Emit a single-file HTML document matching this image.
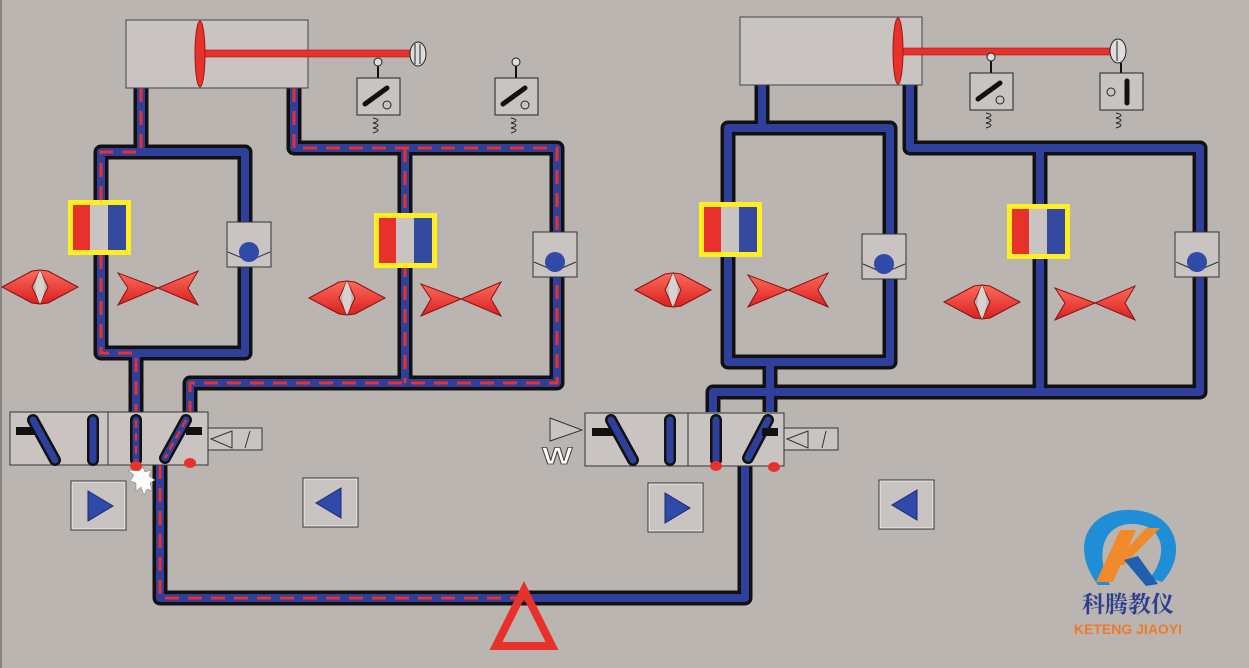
<!DOCTYPE html>
<html><head><meta charset="utf-8"><style>
html,body{margin:0;padding:0;background:#bbb5b2;}
svg{display:block}
</style></head><body>
<svg width="1249" height="668" viewBox="0 0 1249 668" xmlns="http://www.w3.org/2000/svg">
<defs>
<linearGradient id="rg" x1="0" y1="0" x2="0" y2="1"><stop offset="0" stop-color="#ff6a5a"/><stop offset="1" stop-color="#d92020"/></linearGradient>
<g id="diamond">
<polygon points="-38,0 -8,-16 0,-17 -8,0 0,17 -8,16" fill="url(#rg)" stroke="#8a1010" stroke-width="1"/>
<polygon points="38,0 8,-16 0,-17 8,0 0,17 8,16" fill="url(#rg)" stroke="#8a1010" stroke-width="1"/>
<path d="M0,-17 Q-9,0 0,17 Q9,0 0,-17Z" fill="#d8d2ce"/>
</g>
<g id="bow">
<polygon points="0,0 -40,-15 -30,0 -40,17" fill="url(#rg)" stroke="#8a1010" stroke-width="1"/>
<polygon points="0,0 40,-17 30,0 40,17" fill="url(#rg)" stroke="#8a1010" stroke-width="1"/>
</g>
<g id="ball">
<rect x="0" y="0" width="44" height="45" fill="#c9c4c2" stroke="#333" stroke-width="1"/>
<line x1="1" y1="30" x2="22" y2="39" stroke="#333"/><line x1="43" y1="30" x2="22" y2="39" stroke="#333"/>
<circle cx="22" cy="30" r="10" fill="#2f4aa8"/>
</g>
<g id="chk">
<rect x="0" y="0" width="63" height="55" fill="#ffee22"/>
<rect x="5" y="5" width="53" height="45" fill="#c9c4c2"/>
<rect x="5" y="5" width="17" height="45" fill="#e8312a"/>
<rect x="40" y="5" width="18" height="45" fill="#334a9e"/>
</g>
<g id="sw">
<line x1="21" y1="-14" x2="21" y2="0" stroke="#111" stroke-width="2"/>
<circle cx="21" cy="-16" r="4" fill="#ddd" stroke="#222"/>
<rect x="0" y="0" width="43" height="37" fill="#c9c4c2" stroke="#222"/>
<line x1="8" y1="26" x2="30" y2="10" stroke="#111" stroke-width="5" stroke-linecap="round"/>
<circle cx="30" cy="27" r="4" fill="none" stroke="#222"/>
<path d="M16,40 q10,2 0,5 q10,2 0,5 q10,2 0,5" fill="none" stroke="#222"/>
</g>
<g id="btnR"><rect x="0" y="0" width="55" height="49" fill="#c9c4c2" stroke="#333"/><rect x="1" y="1" width="53" height="47" fill="none" stroke="#eee"/><polygon points="17,10 42,25 17,40" fill="#2f4aa8" stroke="#1a2a70"/></g>
<g id="btnL"><rect x="0" y="0" width="55" height="49" fill="#c9c4c2" stroke="#333"/><rect x="1" y="1" width="53" height="47" fill="none" stroke="#eee"/><polygon points="38,10 13,25 38,40" fill="#2f4aa8" stroke="#1a2a70"/></g>
</defs>

<line x1="1" y1="0" x2="1" y2="668" stroke="#8a8480" stroke-width="2"/>

<g fill="none" stroke="#111" stroke-width="15" stroke-linejoin="round">
<path d="M141,88 V152 H101 V353 H136 V412"/>
<path d="M141,152 H245 V353 H136"/>
<path d="M294,88 V148 H557 V383 H190 V415"/>
<path d="M405,148 V383"/>
<path d="M160,465 V598 H745 V466"/>
<path d="M762,85 V128 H728 V362 H770 V412"/>
<path d="M762,128 H890 V362 H770"/>
<path d="M910,85 V148 H1200 V392 H713 V412"/>
<path d="M1040,148 V392"/>
</g>
<g fill="none" stroke="#2f3f9c" stroke-width="8" stroke-linejoin="round">
<path d="M141,88 V152 H101 V353 H136 V412"/>
<path d="M141,152 H245 V353 H136"/>
<path d="M294,88 V148 H557 V383 H190 V415"/>
<path d="M405,148 V383"/>
<path d="M160,465 V598 H745 V466"/>
<path d="M762,85 V128 H728 V362 H770 V412"/>
<path d="M762,128 H890 V362 H770"/>
<path d="M910,85 V148 H1200 V392 H713 V412"/>
<path d="M1040,148 V392"/>
</g>
<g fill="none" stroke="#e8312a" stroke-width="3" stroke-dasharray="14,9">
<path d="M141,88 V152 H101 V353 H136 V412"/>
<path d="M294,88 V148 H557 V383 H190 V415"/>
<path d="M405,148 V383"/>
<path d="M160,465 V598 H520"/>
</g>

<rect x="126" y="20" width="182" height="68" fill="#c9c4c2" stroke="#444"/>
<rect x="205" y="50" width="205" height="7" fill="#e8312a" stroke="#9a1a1a" stroke-width="0.6"/>
<ellipse cx="200" cy="54" rx="5" ry="33" fill="#e8312a" stroke="#9a1a1a"/>
<ellipse cx="418" cy="54" rx="8" ry="12" fill="#ddd" stroke="#222"/>
<line x1="415" y1="44" x2="415" y2="64" stroke="#222"/><line x1="420" y1="44" x2="420" y2="64" stroke="#222"/>

<rect x="740" y="17" width="182" height="68" fill="#c9c4c2" stroke="#444"/>
<rect x="900" y="48" width="210" height="7" fill="#e8312a" stroke="#9a1a1a" stroke-width="0.6"/>
<ellipse cx="898" cy="51" rx="5" ry="33" fill="#e8312a" stroke="#9a1a1a"/>
<ellipse cx="1118" cy="51" rx="8" ry="12" fill="#ddd" stroke="#222"/>
<line x1="1117" y1="41" x2="1117" y2="61" stroke="#222"/>

<use href="#sw" x="357" y="78"/>
<use href="#sw" x="495" y="78"/>
<use href="#sw" x="970" y="73"/>
<g transform="translate(1100,73)">
<line x1="21" y1="-10" x2="21" y2="0" stroke="#111" stroke-width="2"/>
<rect x="0" y="0" width="43" height="37" fill="#c9c4c2" stroke="#222"/>
<line x1="27" y1="8" x2="27" y2="30" stroke="#111" stroke-width="5" stroke-linecap="round"/>
<circle cx="11" cy="19" r="4" fill="none" stroke="#222"/>
<path d="M16,40 q10,2 0,5 q10,2 0,5 q10,2 0,5" fill="none" stroke="#222"/>
</g>

<use href="#chk" x="68" y="200"/>
<use href="#chk" x="374" y="213"/>
<use href="#chk" x="699" y="202"/>
<use href="#chk" x="1007" y="204"/>

<use href="#ball" x="227" y="222"/>
<use href="#ball" x="533" y="232"/>
<use href="#ball" x="862" y="234"/>
<use href="#ball" x="1175" y="232"/>

<use href="#diamond" x="40" y="287"/>
<use href="#bow" x="158" y="288"/>
<use href="#diamond" x="347" y="298"/>
<use href="#bow" x="461" y="299"/>
<use href="#diamond" x="673" y="290"/>
<use href="#bow" x="788" y="290"/>
<use href="#diamond" x="982" y="302"/>
<use href="#bow" x="1095" y="303"/>

<g>
<rect x="10" y="412" width="198" height="53" fill="#c9c4c2" stroke="#333"/>
<line x1="108" y1="412" x2="108" y2="465" stroke="#333"/>
<rect x="16" y="427" width="26" height="8" fill="#111"/>
<g stroke="#111" stroke-width="12" stroke-linecap="round" fill="none">
<line x1="33" y1="420" x2="55" y2="460"/><line x1="93" y1="420" x2="93" y2="460"/>
<line x1="136" y1="420" x2="136" y2="460"/><line x1="186" y1="420" x2="165" y2="458"/></g>
<g stroke="#2f3f9c" stroke-width="7" stroke-linecap="round" fill="none">
<line x1="33" y1="420" x2="55" y2="460"/><line x1="93" y1="420" x2="93" y2="460"/>
<line x1="136" y1="420" x2="136" y2="460"/><line x1="186" y1="420" x2="165" y2="458"/></g>
<g stroke="#e8312a" stroke-width="2.5" stroke-dasharray="8,5"><line x1="136" y1="420" x2="136" y2="460"/><line x1="186" y1="420" x2="165" y2="458"/></g>
<rect x="186" y="427" width="16" height="8" fill="#111"/>
<rect x="208" y="428" width="54" height="22" fill="#c9c4c2" stroke="#333"/>
<polygon points="211,439 232,431 232,448" fill="none" stroke="#333"/><line x1="245" y1="448" x2="250" y2="431" stroke="#333"/>
<ellipse cx="136" cy="466" rx="6" ry="5" fill="#e8312a"/>
<ellipse cx="190" cy="463" rx="6" ry="5" fill="#e8312a"/>
<path d="M128,470 l6,5 l-4,6 l6,2 l0,8 l5,-4 l3,8 l3,-6 l5,2 l-2,-8 l5,-3 l-6,-4 l2,-6 l-6,2 l-2,-5 l-4,4 z" fill="#fff" stroke="#777" stroke-width="0.5"/>
</g>

<g>
<polygon points="550,418 582,430 550,441" fill="#c9c4c2" stroke="#333"/>
<text x="542" y="464" font-family="Liberation Sans, sans-serif" font-size="24" font-weight="bold" fill="#fff" stroke="#444" stroke-width="0.8" transform="translate(542,0) scale(1.35,1) translate(-542,0)">W</text>
<rect x="585" y="413" width="199" height="53" fill="#c9c4c2" stroke="#333"/>
<line x1="688" y1="413" x2="688" y2="466" stroke="#333"/>
<rect x="592" y="428" width="26" height="8" fill="#111"/>
<g stroke="#111" stroke-width="12" stroke-linecap="round" fill="none">
<line x1="611" y1="420" x2="633" y2="460"/><line x1="670" y1="420" x2="670" y2="460"/>
<line x1="716" y1="420" x2="716" y2="460"/><line x1="768" y1="420" x2="748" y2="458"/></g>
<g stroke="#2f3f9c" stroke-width="7" stroke-linecap="round" fill="none">
<line x1="611" y1="420" x2="633" y2="460"/><line x1="670" y1="420" x2="670" y2="460"/>
<line x1="716" y1="420" x2="716" y2="460"/><line x1="768" y1="420" x2="748" y2="458"/></g>
<rect x="762" y="428" width="16" height="8" fill="#111"/>
<rect x="784" y="428" width="54" height="22" fill="#c9c4c2" stroke="#333"/>
<polygon points="787,439 808,431 808,448" fill="none" stroke="#333"/><line x1="822" y1="448" x2="826" y2="431" stroke="#333"/>
<ellipse cx="716" cy="466" rx="6" ry="5" fill="#e8312a"/>
<ellipse cx="774" cy="467" rx="6" ry="5" fill="#e8312a"/>
</g>

<use href="#btnR" x="71" y="481"/>
<use href="#btnL" x="303" y="478"/>
<use href="#btnR" x="648" y="483"/>
<use href="#btnL" x="879" y="480"/>

<polygon points="524,590 496,646 552,646" fill="none" stroke="#e8312a" stroke-width="8"/>

<g>
<path d="M1098,585 C1068,545 1090,508 1132,510 C1178,512 1188,555 1162,582 L1150,578 C1170,552 1162,526 1135,524 C1104,522 1094,552 1110,585 Z" fill="#1f8ed6"/>
<polygon points="1096,582 1120,530 1136,530 1113,582" fill="#f08a2a"/>
<polygon points="1112,565 1146,528 1160,528 1124,565" fill="#f08a2a"/>
<polygon points="1124,560 1138,556 1158,584 1146,586" fill="#1f5fb0"/>
<text x="1128" y="612" text-anchor="middle" font-family="Liberation Serif, 'Noto Serif CJK SC', serif" font-size="23" font-weight="bold" fill="#2c3f8f">科腾教仪</text>
<text x="1128" y="634" text-anchor="middle" font-family="Liberation Sans, sans-serif" font-size="14" font-weight="bold" fill="#ee7a2a">KETENG JIAOYI</text>
</g>
</svg>
</body></html>
